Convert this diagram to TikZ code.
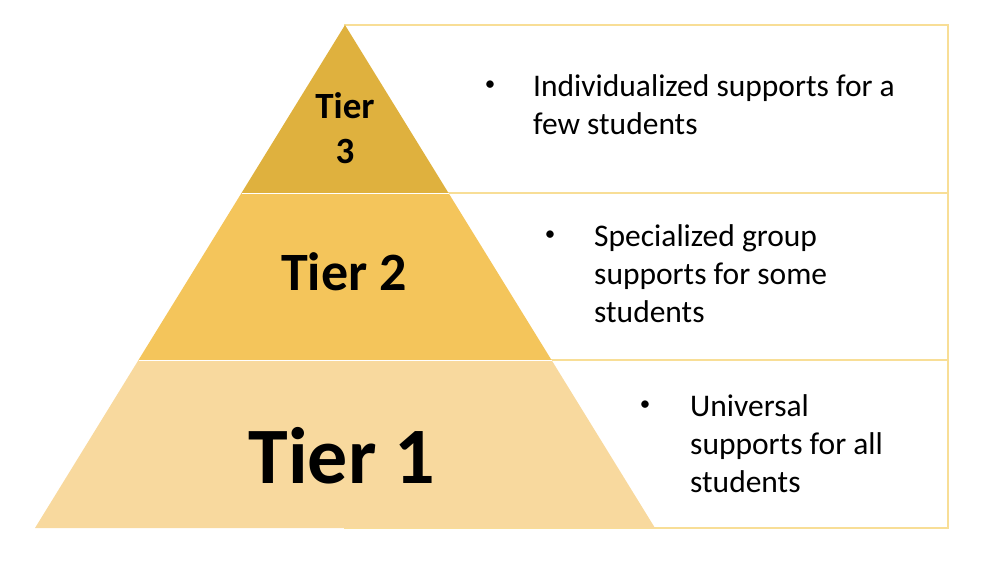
\documentclass[tikz,border=0pt]{standalone}
\usepackage{fontspec}
\setmainfont{Carlito}
\usetikzlibrary{positioning}
\definecolor{goldthree}{HTML}{DFB13E}
\definecolor{goldtwo}{HTML}{F4C55B}
\definecolor{goldone}{HTML}{F8D99E}
\definecolor{boxline}{HTML}{F8DE96}

\begin{document}
\begin{tikzpicture}[x=1pt, y=-1pt,
  panel/.style={draw=boxline, line width=1.6pt},
  tier/.style={draw=white, line width=1pt},
  tiertext/.style={font=\bfseries, align=center, inner sep=0pt},
  item/.style={font=\fontsize{31.5}{38}\selectfont, align=left, anchor=west, inner sep=0pt},
  dot/.style={font=\fontsize{21}{24}\selectfont, inner sep=0pt}
]
\useasboundingbox (0,0) rectangle (986,578);

% boxes behind the pyramid
\draw[panel] (345,25) rectangle (948,193);
\draw[panel] (345,193) rectangle (948,360);
\draw[panel] (345,360) rectangle (948,528);

% pyramid
\coordinate (apex) at (345,25);
\coordinate (l3) at (241.5,193); \coordinate (r3) at (448.5,193);
\coordinate (l2) at (138.5,360); \coordinate (r2) at (551.5,360);
\coordinate (l1) at (35,528);    \coordinate (r1) at (655,528);
\fill[goldone] (l2) -- (r2) -- (r1) -- (l1) -- cycle;
\fill[goldtwo] (l3) -- (r3) -- (r2) -- (l2) -- cycle;
\fill[goldthree] (apex) -- (r3) -- (l3) -- cycle;
\draw[tier] (l3) -- (r3);
\draw[tier] (l2) -- (r2);

% tier names
\node[tiertext, font=\fontsize{37}{45}\selectfont\bfseries] (t3) at (345,128) {Tier\\3};
\node[tiertext, font=\fontsize{54}{60}\selectfont\bfseries] (t2) at (344,272) {Tier 2};
\node[tiertext, font=\fontsize{80}{90}\selectfont\bfseries] (t1) at (342,456) {Tier 1};

% bullet texts
\node[dot] (d3) at (490,86) {\textbullet};
\node[item] (s3) at (533,105) {Individualized supports for a\\few students};
\node[dot] (d2) at (550,236) {\textbullet};
\node[item] (s2) at (594,274) {Specialized group\\supports for some\\students};
\node[dot] (d1) at (645,406) {\textbullet};
\node[item] (s1) at (690,444) {Universal\\supports for all\\students};
\end{tikzpicture}
\end{document}
